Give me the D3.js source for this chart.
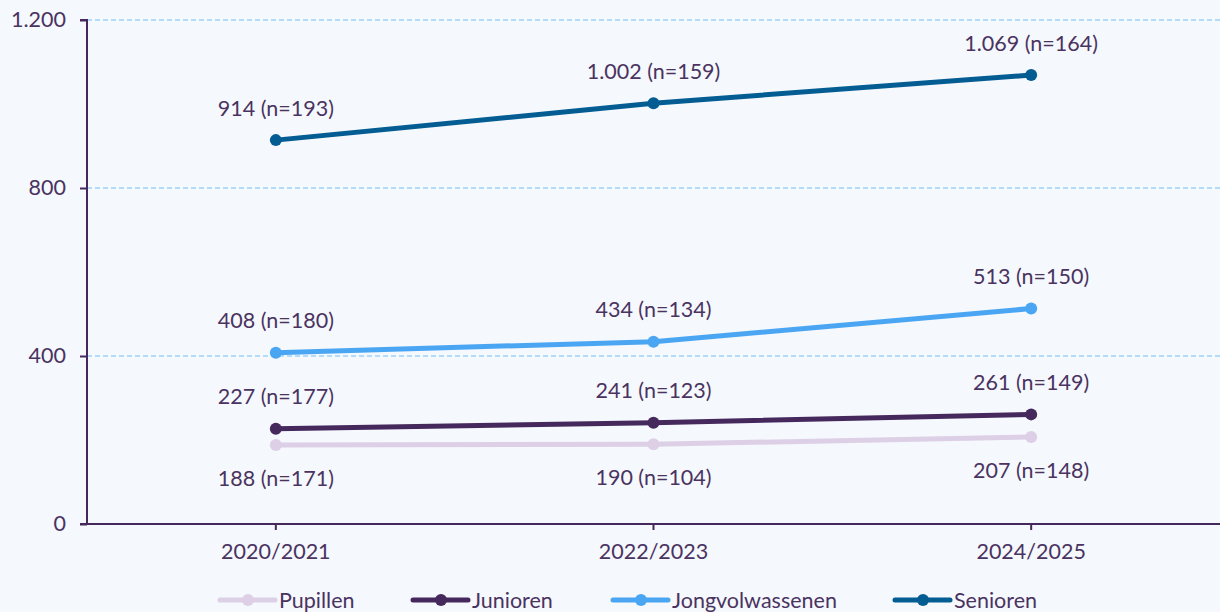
<!DOCTYPE html>
<html>
<head>
<meta charset="utf-8">
<script src="https://cdn.jsdelivr.net/npm/d3@7"></script>
<style>
  body { margin: 0; background: #f5f8fd; }
  svg { display: block; font-family: Lato, "Open Sans", sans-serif; }
  .tick text { fill: #4a3360; font-size: 21.5px; font-family: Lato, "Open Sans", sans-serif; }
  .lbl { fill: #4a3360; font-size: 21.5px; }
</style>
</head>
<body>
<div class="chart"></div>
<script>
var svgWidth = 1220;
var svgHeight = 612;

var margin = { top: 20, right: 0, bottom: 88, left: 87 };
var width = svgWidth - margin.left - margin.right;
var height = svgHeight - margin.top - margin.bottom;

var seasons = ["2020/2021", "2022/2023", "2024/2025"];
var yTicks = [0, 400, 800, 1200];

var seriesNames = ["Pupillen", "Junioren", "Jongvolwassenen", "Senioren"];
var seriesColors = ["#dccfe6", "#46295c", "#4aa6f2", "#035d93"];
var pupillen = [188, 190, 207];
var junioren = [227, 241, 261];
var jongvolwassenen = [408, 434, 513];
var senioren = [914, 1002, 1069];
var pupillenN = [171, 104, 148];
var juniorenN = [177, 123, 149];
var jongvolwassenenN = [180, 134, 150];
var seniorenN = [193, 159, 164];

var seriesValues = [pupillen, junioren, jongvolwassenen, senioren];
var seriesN = [pupillenN, juniorenN, jongvolwassenenN, seniorenN];
var labelBelow = [true, false, false, false];

var fmt = d3.formatLocale({ decimal: ",", thousands: ".", grouping: [3], currency: ["€", ""] }).format(",d");

var svg = d3.select(".chart")
  .append("svg")
  .attr("width", svgWidth)
  .attr("height", svgHeight);

svg.append("rect").attr("width", svgWidth).attr("height", svgHeight).attr("fill", "#f5f8fd");

var chart = svg.append("g")
  .attr("transform", "translate(" + margin.left + "," + margin.top + ")");

var x = d3.scaleBand().domain(seasons).range([0, width]);
var y = d3.scaleLinear().domain([0, 1200]).range([height, 0]);

// gridlines
chart.selectAll(".grid")
  .data(yTicks.filter(function(d) { return d > 0; }))
  .enter().append("line")
    .attr("x1", 0).attr("x2", width)
    .attr("y1", function(d) { return y(d); })
    .attr("y2", function(d) { return y(d); })
    .attr("stroke", "#6ec0f7")
    .attr("stroke-width", 1)
    .attr("stroke-dasharray", "5,3");

var leftAxis = d3.axisLeft(y).tickValues(yTicks).tickSize(7).tickPadding(14).tickFormat(fmt);
var bottomAxis = d3.axisBottom(x).tickSize(6).tickPadding(14);

var gy = chart.append("g").call(leftAxis);
var gx = chart.append("g").attr("transform", "translate(0," + height + ")").call(bottomAxis);
[gx, gy].forEach(function(g) {
  g.select(".domain").attr("stroke", "#46295c").attr("stroke-width", 2);
  g.selectAll(".tick line").attr("stroke", "#46295c").attr("stroke-width", 2);
});
gy.select(".domain").attr("d", "M-7," + height + "H0V0H-7");
gx.select(".domain").attr("d", "M-7,0H" + width);

var cx = function(i) { return x(seasons[i]) + x.bandwidth() / 2; };

var line = d3.line()
  .x(function(d, i) { return cx(i); })
  .y(function(d) { return y(d); });

seriesValues.forEach(function(vals, s) {
  chart.append("path")
    .datum(vals)
    .attr("d", line)
    .attr("fill", "none")
    .attr("stroke", seriesColors[s])
    .attr("stroke-width", 5)
    .attr("stroke-linejoin", "round")
    .attr("stroke-linecap", "round");

  chart.selectAll(".dot" + s)
    .data(vals)
    .enter().append("circle")
      .attr("cx", function(d, i) { return cx(i); })
      .attr("cy", function(d) { return y(d); })
      .attr("r", 6)
      .attr("fill", seriesColors[s]);

  chart.selectAll(".lbl" + s)
    .data(vals)
    .enter().append("text")
      .attr("class", "lbl")
      .attr("x", function(d, i) { return cx(i); })
      .attr("y", function(d) { return y(d) + (labelBelow[s] ? 33 : -32); })
      .attr("dy", "0.35em")
      .attr("text-anchor", "middle")
      .text(function(d, i) { return fmt(d) + " (n=" + seriesN[s][i] + ")"; });
});

// legend
var legendX = [220, 413, 613, 895];
var legend = svg.selectAll(".legend")
  .data(seriesNames)
  .enter().append("g")
    .attr("transform", function(d, i) { return "translate(" + legendX[i] + ",600)"; });

legend.append("line")
  .attr("x1", 0).attr("x2", 55)
  .attr("stroke", function(d, i) { return seriesColors[i]; })
  .attr("stroke-width", 5)
  .attr("stroke-linecap", "round");
legend.append("circle")
  .attr("cx", 28).attr("r", 6)
  .attr("fill", function(d, i) { return seriesColors[i]; });
legend.append("text")
  .attr("class", "lbl")
  .attr("x", 59)
  .attr("dy", "0.35em")
  .text(function(d) { return d; });
</script>
</body>
</html>
